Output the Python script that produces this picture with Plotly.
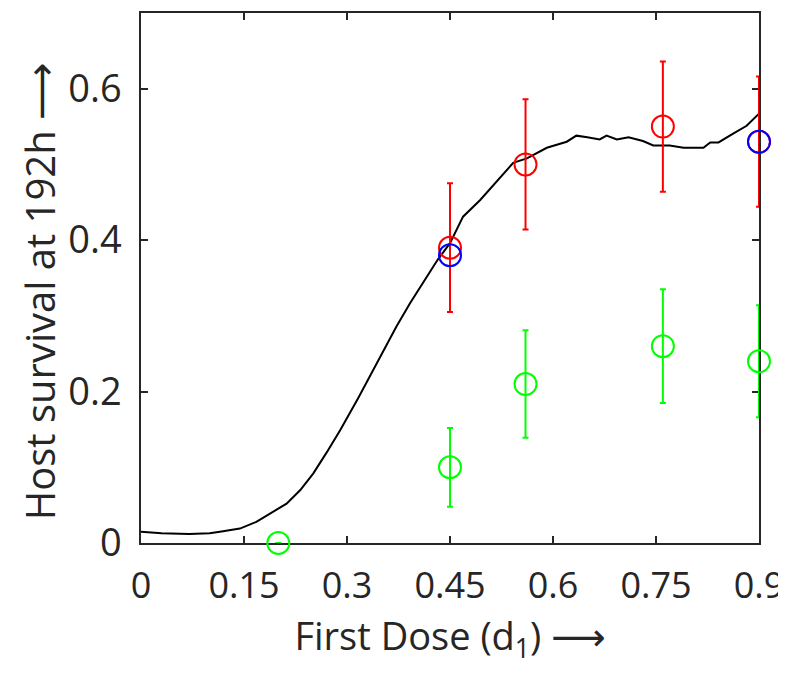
import plotly.graph_objects as go

# Model curve (black line)
curve_x = [0, 0.03, 0.07, 0.10, 0.115, 0.144, 0.168, 0.193, 0.212, 0.232, 0.251, 0.270, 0.290,
           0.316, 0.348, 0.372, 0.392, 0.416, 0.432, 0.45, 0.462, 0.469, 0.494, 0.523, 0.542, 0.562, 0.591,
           0.620, 0.634, 0.650, 0.668, 0.678, 0.693, 0.710, 0.731, 0.746, 0.770, 0.790, 0.819,
           0.829, 0.841, 0.863, 0.882, 0.9]
curve_y = [0.015, 0.013, 0.012, 0.013, 0.015, 0.019, 0.028, 0.041, 0.052, 0.070, 0.092, 0.119, 0.149,
           0.191, 0.246, 0.286, 0.317, 0.352, 0.374, 0.396, 0.418, 0.431, 0.453, 0.482, 0.502, 0.508, 0.522,
           0.530, 0.538, 0.536, 0.533, 0.538, 0.533, 0.536, 0.531, 0.525, 0.525, 0.522, 0.522,
           0.529, 0.529, 0.541, 0.551, 0.567]

# Red experimental points
red_x = [0.45, 0.56, 0.76, 0.9]
red_y = [0.39, 0.50, 0.55, 0.53]
red_err = [0.085, 0.086, 0.086, 0.086]

# Green experimental points
green_x = [0.2, 0.45, 0.56, 0.76, 0.9]
green_y = [0.0, 0.10, 0.21, 0.26, 0.24]
green_err = [0.0, 0.052, 0.071, 0.075, 0.074]

# Blue points
blue_x = [0.45, 0.9]
blue_y = [0.38, 0.53]

x_ticks = [0, 0.15, 0.3, 0.45, 0.6, 0.75, 0.9]
x_ticktext = ["0", "0.15", "0.3", "0.45", "0.6", "0.75", "0.9"]
y_ticks = [0, 0.2, 0.4, 0.6]
y_ticktext = ["0", "0.2", "0.4", "0.6"]

FONT = "Open Sans"
AX = "#262626"
FS = 38
ARROW = '<span style="font-family:DejaVu Sans">⟶</span>'

fig = go.Figure()
fig.add_trace(go.Scatter(x=curve_x, y=curve_y, mode="lines",
                         line=dict(color="black", width=2), showlegend=False, cliponaxis=False))
fig.add_trace(go.Scatter(x=red_x, y=red_y, mode="markers",
                         marker=dict(symbol="circle-open", size=22, color="#ff0000", line=dict(width=2)),
                         error_y=dict(type="data", array=red_err, color="#ff0000", thickness=2, width=3),
                         showlegend=False, cliponaxis=False))
fig.add_trace(go.Scatter(x=green_x, y=green_y, mode="markers",
                         marker=dict(symbol="circle-open", size=22, color="#00ff00", line=dict(width=2)),
                         error_y=dict(type="data", array=green_err, color="#00ff00", thickness=2, width=3),
                         showlegend=False, cliponaxis=False))
fig.add_trace(go.Scatter(x=blue_x, y=blue_y, mode="markers",
                         marker=dict(symbol="circle-open", size=22, color="#0000ff", line=dict(width=2)),
                         showlegend=False, cliponaxis=False))

fig.add_annotation(text="Host survival at 192h " + ARROW, textangle=-90,
                   xref="paper", yref="paper", x=-0.163, y=0.4755,
                   xanchor="center", yanchor="middle", showarrow=False,
                   font=dict(size=40, family=FONT, color=AX))

fig.update_layout(
    width=778, height=670,
    margin=dict(l=133, r=27, t=5, b=135, autoexpand=False),
    paper_bgcolor="white", plot_bgcolor="white",
    font=dict(family=FONT, size=FS, color=AX),
    xaxis=dict(range=[0, 0.9], tickvals=x_ticks, ticktext=x_ticktext, automargin=False,
               tickfont=dict(size=36),
               showgrid=False, zeroline=False, showline=True, linecolor=AX, linewidth=1.5,
               mirror="ticks", ticks="inside", ticklen=7, tickwidth=1.5, tickcolor=AX,
               ticklabelstandoff=10, layer="below traces",
               title=dict(text="First Dose (d<sub>1</sub>) " + ARROW,
                          font=dict(size=FS, family=FONT, color=AX), standoff=14)),
    yaxis=dict(range=[0, 0.7], tickvals=y_ticks, ticktext=y_ticktext, automargin=False,
               showgrid=False, zeroline=False, showline=True, linecolor=AX, linewidth=1.5,
               mirror="ticks", ticks="inside", ticklen=7, tickwidth=1.5, tickcolor=AX,
               ticklabelstandoff=10, layer="below traces"),
)

fig.write_html("out.html")
